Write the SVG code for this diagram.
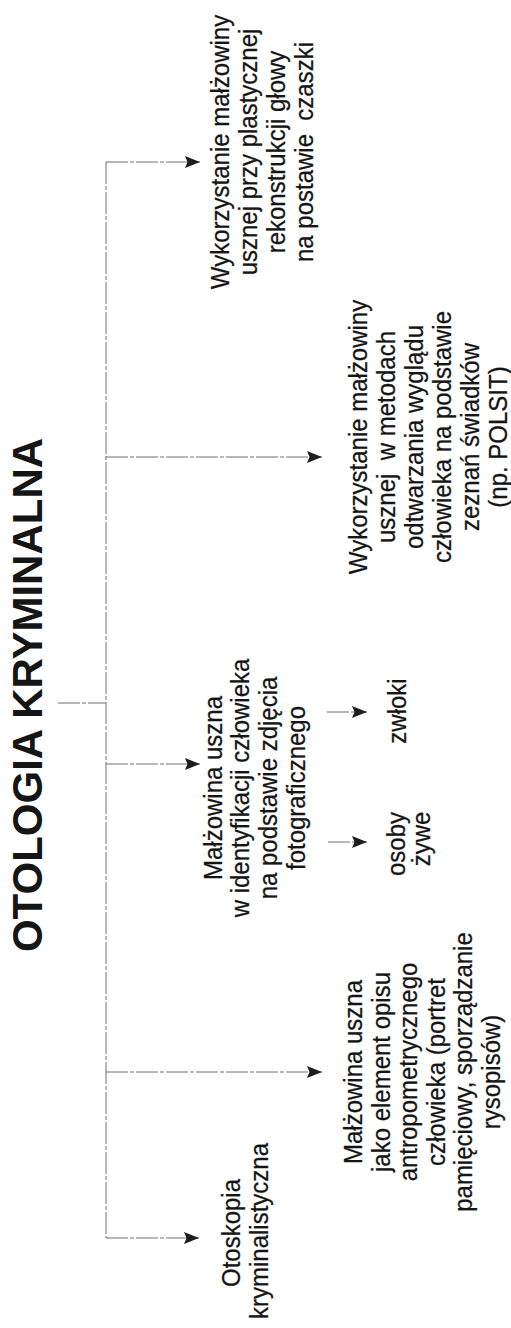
<svg xmlns="http://www.w3.org/2000/svg" width="511" height="1328" viewBox="0 0 511 1328">
<style>
  .t { font-family: "Liberation Sans", Arial, sans-serif; font-size: 24px; fill: #151515; stroke: #151515; stroke-width: 0.25; text-anchor: middle; }
  .title { font-family: "Liberation Sans", Arial, sans-serif; font-size: 42px; font-weight: bold; fill: #151515; text-anchor: middle; }
  .c { stroke: #707070; stroke-width: 1; fill: none; stroke-dasharray: 22 2 4 2; }
  .a { marker-end: url(#arr); }
</style>
<defs>
  <marker id="arr" markerUnits="userSpaceOnUse" markerWidth="17" markerHeight="14" refX="15" refY="6.5" orient="auto">
    <path d="M0,0.5 L15,6.5 L0,12.5 L2.5,6.5 Z" fill="#1e1e1e"/>
  </marker>
</defs>
<rect width="511" height="1328" fill="#ffffff"/>

<g id="connectors">
  <line class="c" x1="106" y1="162" x2="106" y2="1238"/>
  <line class="c" x1="58" y1="703" x2="106" y2="703"/>
  <line class="c a" x1="106" y1="162" x2="200" y2="162"/>
  <line class="c a" x1="106" y1="457" x2="322" y2="457"/>
  <line class="c a" x1="106" y1="764" x2="200" y2="764"/>
  <line class="c a" x1="106" y1="1072" x2="322" y2="1072"/>
  <line class="c a" x1="106" y1="1238" x2="199" y2="1238"/>
  <line class="c a" x1="327" y1="712" x2="367" y2="712"/>
  <line class="c a" x1="328" y1="842" x2="367" y2="842"/>
</g>

<g id="title">
  <text class="title" transform="translate(42,695) rotate(-90)">OTOLOGIA KRYMINALNA</text>
</g>

<g id="node-rekonstrukcja">
  <text class="t" transform="translate(229,152) rotate(-90) scale(1,1.1)">Wykorzystanie małżowiny</text>
  <text class="t" transform="translate(257,152) rotate(-90) scale(1,1.1)">usznej przy plastycznej</text>
  <text class="t" transform="translate(285,152) rotate(-90) scale(1,1.1)">rekonstrukcji głowy</text>
  <text class="t" transform="translate(313,152) rotate(-90) scale(1,1.1)" xml:space="preserve">na postawie  czaszki</text>
</g>

<g id="node-polsit">
  <text class="t" transform="translate(367,437) rotate(-90) scale(1,1.1)">Wykorzystanie małżowiny</text>
  <text class="t" transform="translate(395,437) rotate(-90) scale(1,1.1)" xml:space="preserve">usznej  w metodach</text>
  <text class="t" transform="translate(423,437) rotate(-90) scale(1,1.1)">odtwarzania wyglądu</text>
  <text class="t" transform="translate(451,437) rotate(-90) scale(1,1.1)">człowieka na podstawie</text>
  <text class="t" transform="translate(479,437) rotate(-90) scale(1,1.1)">zeznań świadków</text>
  <text class="t" transform="translate(507,437) rotate(-90) scale(1,1.1)">(np. POLSIT)</text>
</g>

<g id="node-identyfikacja">
  <text class="t" transform="translate(222,788) rotate(-90) scale(1,1.1)">Małżowina uszna</text>
  <text class="t" transform="translate(249,788) rotate(-90) scale(1,1.1)">w identyfikacji człowieka</text>
  <text class="t" transform="translate(277,788) rotate(-90) scale(1,1.1)">na podstawie zdjęcia</text>
  <text class="t" transform="translate(305,788) rotate(-90) scale(1,1.1)">fotograficznego</text>
</g>

<g id="node-zwloki">
  <text class="t" transform="translate(406,711) rotate(-90) scale(1,1.1)">zwłoki</text>
</g>

<g id="node-osoby-zywe">
  <text class="t" transform="translate(405,844) rotate(-90) scale(1,1.1)">osoby</text>
  <text class="t" transform="translate(430,839) rotate(-90) scale(1,1.1)">żywe</text>
</g>

<g id="node-element-opisu">
  <text class="t" transform="translate(362,1072) rotate(-90) scale(1,1.1)">Małżowina uszna</text>
  <text class="t" transform="translate(389.5,1072) rotate(-90) scale(1,1.1)">jako element opisu</text>
  <text class="t" transform="translate(417,1072) rotate(-90) scale(1,1.1)">antropometrycznego</text>
  <text class="t" transform="translate(444.5,1072) rotate(-90) scale(1,1.1)">człowieka (portret</text>
  <text class="t" transform="translate(472,1072) rotate(-90) scale(1,1.1)">pamięciowy, sporządzanie</text>
  <text class="t" transform="translate(499.5,1072) rotate(-90) scale(1,1.1)">rysopisów)</text>
</g>

<g id="node-otoskopia">
  <text class="t" transform="translate(240,1233) rotate(-90) scale(1,1.1)">Otoskopia</text>
  <text class="t" transform="translate(268,1231) rotate(-90) scale(1,1.1)">kryminalistyczna</text>
</g>
</svg>
